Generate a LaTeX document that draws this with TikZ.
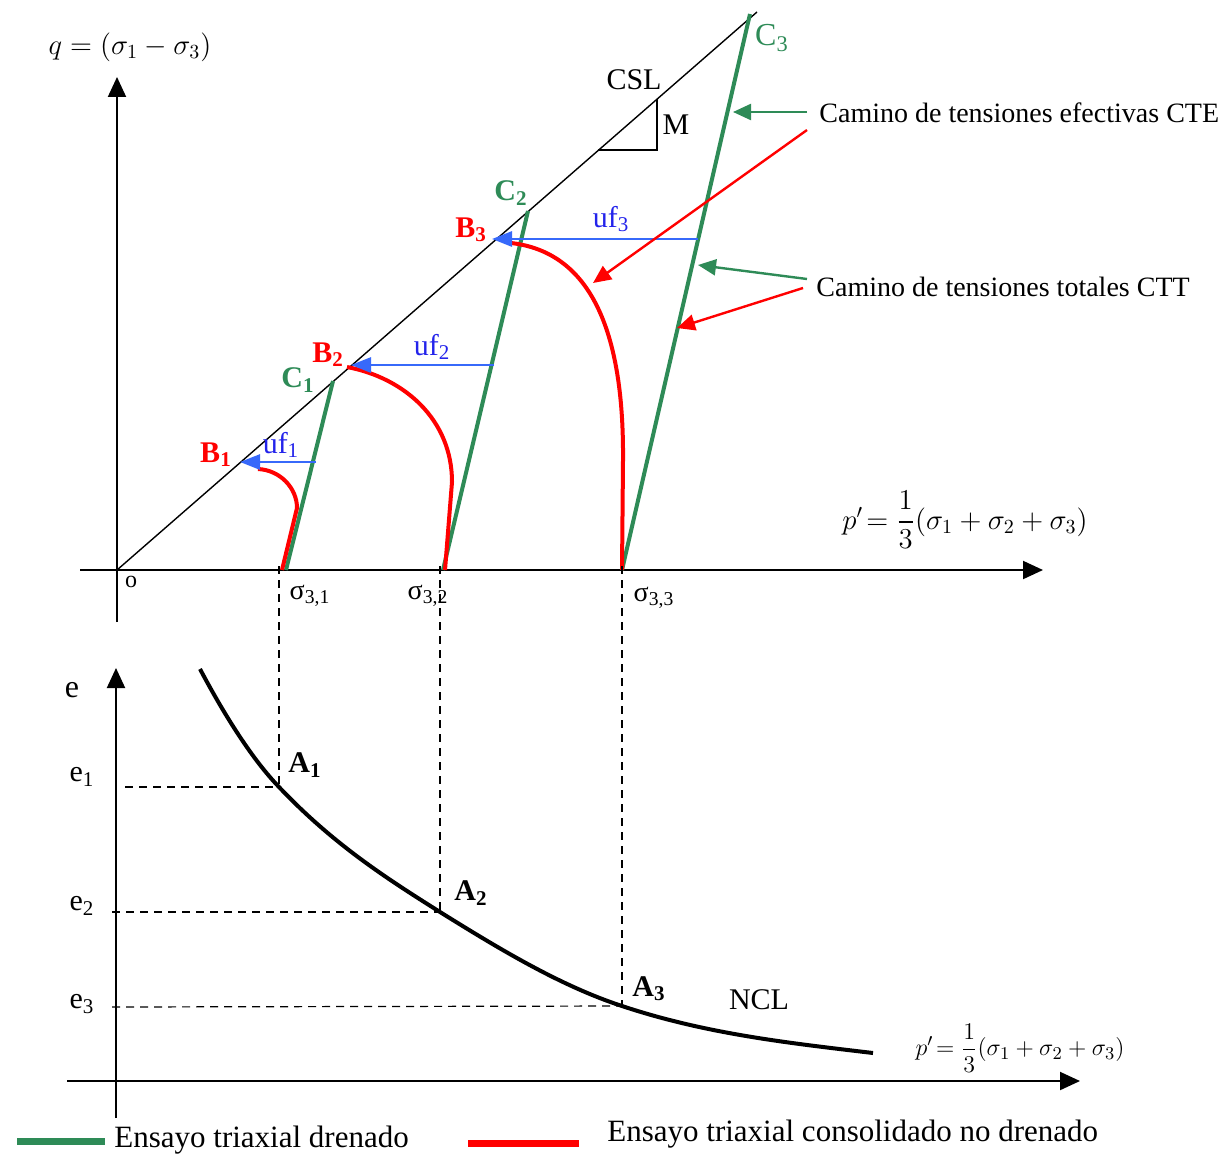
\documentclass[tikz,border=0pt]{standalone}
\usepackage{fontspec}
\setmainfont{Liberation Serif}
\usepackage{amsmath}
\usetikzlibrary{arrows.meta,positioning}

\definecolor{drgreen}{RGB}{46,139,87}
\definecolor{ufblue}{RGB}{55,105,250}
\definecolor{uftext}{RGB}{35,35,235}

\begin{document}
\begin{tikzpicture}[x=0.5pt, y=-0.5pt,
  axis/.style={line width=1pt, -{Triangle[length=10pt, width=9pt]}},
  cte/.style={line width=2pt, drgreen},
  ctt/.style={line width=2pt, red},
  ufarrow/.style={line width=1.4pt, ufblue, -{Triangle[length=10pt, width=7.5pt]}},
  note/.style={line width=1.2pt, -{Triangle[length=9pt, width=8pt]}},
  guide/.style={line width=0.6pt, dash pattern=on 4pt off 3pt},
  lbl/.style={font=\fontsize{14}{16}\selectfont, inner sep=0pt},
  pt/.style={font=\fontsize{15}{17}\selectfont\bfseries, inner sep=0pt},
  legline/.style={line width=3.5pt},
]
\useasboundingbox (0,0) rectangle (1224,1156);

% Upper plot: q - p' axes
\coordinate (O) at (117,570);
\coordinate (qbot) at (117,622);
\coordinate (qtop) at (117,77);
\coordinate (pleft) at (80,570);
\coordinate (pright) at (1043,570);
\draw[axis] (qbot) -- (qtop);
\draw[axis] (pleft) -- (pright);
\node[lbl] (qlab) at (130,47) {$q=(\sigma_1-\sigma_3)$};
\node[lbl, font=\fontsize{12}{14}\selectfont] (olab) at (131,582) {o};
\node[lbl] (plab) at (965,520) {$p'\!=\dfrac{1}{3}(\sigma_1+\sigma_2+\sigma_3)$};

% Critical state line and slope triangle
\coordinate (cslend) at (757,12);
\draw[line width=0.7pt] (O) -- (cslend);
\draw[line width=0.7pt] (598,150) -- (657,150) -- (657,99);
\node[lbl, font=\fontsize{15}{17}\selectfont] (csl) at (634,80) {CSL};
\node[lbl, font=\fontsize{15}{17}\selectfont] (mlab) at (676,125) {M};

% Drained paths (green)
\coordinate (s1) at (286,570); \coordinate (c1) at (333,381);
\coordinate (s2) at (443,570); \coordinate (c2) at (528,211);
\coordinate (s3) at (622,570); \coordinate (c3) at (750,14);
\draw[cte] (s1) -- (c1);
\draw[cte] (s2) -- (c2);
\draw[cte] (s3) -- (c3);
\node[pt, text=drgreen] (c1lab) at (298,380) {C\textsubscript{1}};
\node[pt, text=drgreen] (c2lab) at (511,193) {C\textsubscript{2}};
\node[pt, text=drgreen, font=\fontsize{16}{18}\selectfont] (c3lab) at (772,38) {C\textsubscript{3}};

% Undrained paths (red)
\coordinate (r1) at (282,570); \coordinate (e1r) at (258,469);
\coordinate (r2) at (445,570); \coordinate (e2r) at (347,367);
\coordinate (r3) at (622,570); \coordinate (e3r) at (511,243);
\draw[ctt] (r1) -- (297,508) .. controls (297,488) and (280,470) .. (e1r);
\draw[ctt] (r2) -- (452,482) .. controls (452,420) and (405,378) .. (e2r);
\draw[ctt] (r3) -- (623,460) .. controls (624,330) and (590,252) .. (e3r);

% Pore pressures
\coordinate (u1) at (316,462); \coordinate (b1) at (240,462);
\coordinate (u2) at (494,365); \coordinate (b2) at (351,365);
\coordinate (u3) at (698,239); \coordinate (b3) at (492,239);
\draw[ufarrow] (u1) -- (b1);
\draw[ufarrow] (u2) -- (b2);
\draw[ufarrow] (u3) -- (b3);
\node[lbl, text=uftext, font=\fontsize{15}{17}\selectfont] (uf1) at (281,445) {uf\textsubscript{1}};
\node[lbl, text=uftext, font=\fontsize{15}{17}\selectfont] (uf2) at (432,347) {uf\textsubscript{2}};
\node[lbl, text=uftext, font=\fontsize{15}{17}\selectfont] (uf3) at (611,219) {uf\textsubscript{3}};
\node[pt, text=red] (b1lab) at (216,455) {B\textsubscript{1}};
\node[pt, text=red] (b2lab) at (328,355) {B\textsubscript{2}};
\node[pt, text=red] (b3lab) at (471,230) {B\textsubscript{3}};

% Path annotations
\node[lbl, anchor=west] (ctelab) at (819,113) {Camino de tensiones efectivas CTE};
\node[lbl, anchor=west] (cttlab) at (816,287) {Camino de tensiones totales CTT};
\coordinate (n1) at (807,112); \coordinate (t1) at (733,112);
\coordinate (n2) at (807,130); \coordinate (t2) at (593,283);
\coordinate (n3) at (807,279); \coordinate (t3) at (698,265);
\coordinate (n4) at (803,288); \coordinate (t4) at (677,328);
\draw[note, drgreen] (n1) -- (t1);
\draw[note, red] (n2) -- (t2);
\draw[note, drgreen] (n3) -- (t3);
\draw[note, red] (n4) -- (t4);

% Confining pressures
\node[lbl] (sig1) at (310,596) {σ\textsubscript{3,1}};
\node[lbl] (sig2) at (428,596) {σ\textsubscript{3,2}};
\node[lbl] (sig3) at (654,598) {σ\textsubscript{3,3}};

% Lower plot: e - p' axes
\coordinate (ebot) at (116,1118);
\coordinate (etop) at (116,668);
\coordinate (hleft) at (67,1081);
\coordinate (hright) at (1080,1081);
\draw[axis] (ebot) -- (etop);
\draw[axis] (hleft) -- (hright);
\node[lbl, font=\fontsize{16}{18}\selectfont] (elab) at (72,690) {e};
\node[lbl, font=\fontsize{15}{17}\selectfont] (e1lab) at (82,777) {e\textsubscript{1}};
\node[lbl, font=\fontsize{15}{17}\selectfont] (e2lab) at (82,906) {e\textsubscript{2}};
\node[lbl, font=\fontsize{15}{17}\selectfont] (e3lab) at (82,1004) {e\textsubscript{3}};
\node[lbl, font=\fontsize{13}{15}\selectfont] (plab2) at (1020,1048) {$p'\!=\dfrac{1}{3}(\sigma_1+\sigma_2+\sigma_3)$};

% Normal consolidation line
\coordinate (ncl0) at (200,669);
\coordinate (A1) at (279,787);
\coordinate (A2) at (440,912);
\coordinate (A3) at (622,1006);
\coordinate (ncl1) at (873,1053);
\draw[line width=2pt] (ncl0) .. controls (226,718) and (253,760) .. (A1)
  .. controls (333,844) and (386,878) .. (A2)
  .. controls (501,950) and (561,986) .. (A3)
  .. controls (706,1034) and (789,1043) .. (ncl1);
\node[pt] (a1lab) at (305,765) {A\textsubscript{1}};
\node[pt] (a2lab) at (471,893) {A\textsubscript{2}};
\node[pt] (a3lab) at (649,989) {A\textsubscript{3}};
\node[lbl, font=\fontsize{15}{17}\selectfont] (ncl) at (759,1000) {NCL};

% Projection lines
\draw[guide] (279,566) -- (A1);
\draw[guide] (440,566) -- (A2);
\draw[guide] (622,566) -- (A3);
\draw[guide] (125,787) -- (A1);
\draw[guide] (112,912) -- (A2);
\draw[guide] (112,1007) -- (A3);

% Legend
\draw[legline, drgreen] (17,1141) -- (105,1141);
\node[lbl, anchor=west, font=\fontsize{15.5}{18}\selectfont] (leg1) at (114,1140) {Ensayo triaxial drenado};
\draw[legline, red] (468,1143) -- (579,1143);
\node[lbl, anchor=west, font=\fontsize{15.5}{18}\selectfont] (leg2) at (607,1134) {Ensayo triaxial consolidado no drenado};
\end{tikzpicture}
\end{document}
